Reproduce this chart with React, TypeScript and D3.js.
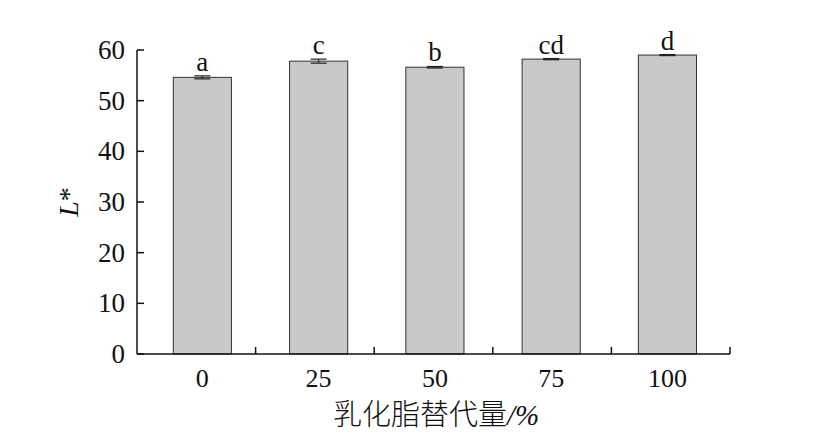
import React from "react";
import * as d3 from "d3";

const categories = ["0", "25", "50", "75", "100"];
const values = [54.6, 57.8, 56.6, 58.2, 59.0];
const errors = [0.3, 0.4, 0.15, 0.12, 0.1];
const letters = ["a", "c", "b", "cd", "d"];
const yTicks = [0, 10, 20, 30, 40, 50, 60];

export default function App() {
  const W = 821, H = 442;
  const x0 = 137, x1 = 730, yTop = 50, yBot = 354;
  const x = d3.scaleBand<string>().domain(categories).range([x0, x1]).paddingInner(0.5).paddingOuter(0.3).align(0.52);
  const y = d3.scaleLinear().domain([0, 60]).range([yBot, yTop]);
  const step = (x1 - x0) / categories.length;
  const serif: React.CSSProperties = { fontFamily: '"Liberation Serif", "DejaVu Serif", serif' };
  return (
    <svg width={W} height={H} style={{ position: "absolute", left: 0, top: 0, background: "#fff" }}>
      {categories.map((c, i) => {
        const bx = x(c)!;
        const bw = x.bandwidth();
        const cx = bx + bw / 2;
        return (
          <g key={c}>
            <rect x={bx} y={y(values[i])} width={bw} height={yBot - y(values[i])} fill="#c8c9cb" stroke="#333" strokeWidth={1} />
            <line x1={cx} x2={cx} y1={y(values[i] + errors[i])} y2={y(values[i] - errors[i])} stroke="#222" strokeWidth={1} />
            <line x1={cx - 8} x2={cx + 8} y1={y(values[i] + errors[i])} y2={y(values[i] + errors[i])} stroke="#222" strokeWidth={1.2} />
            <line x1={cx - 8} x2={cx + 8} y1={y(values[i] - errors[i])} y2={y(values[i] - errors[i])} stroke="#222" strokeWidth={1.2} />
            <text x={cx} y={y(values[i] + errors[i]) - 5} textAnchor="middle" style={serif} fontSize={27} fill="#111">{letters[i]}</text>
            <text x={cx} y={387} textAnchor="middle" style={serif} fontSize={26} fill="#111">{c}</text>
          </g>
        );
      })}
      <line x1={x0} x2={x0} y1={yTop} y2={yBot} stroke="#111" strokeWidth={1.5} />
      {yTicks.map((t) => (
        <g key={t}>
          <line x1={x0} x2={x0 + 7} y1={y(t)} y2={y(t)} stroke="#111" strokeWidth={1.5} />
          <text x={x0 - 12} y={y(t) + 9} textAnchor="end" style={serif} fontSize={27} fill="#111">{t}</text>
        </g>
      ))}
      <line x1={x0} x2={x1} y1={yBot} y2={yBot} stroke="#111" strokeWidth={1.5} />
      {categories.map((c, i) => (
        <line key={c} x1={x0 + step * (i + 1)} x2={x0 + step * (i + 1)} y1={yBot} y2={yBot - 7} stroke="#111" strokeWidth={1.5} />
      ))}
      <text transform={`translate(78,${(yTop + yBot) / 2}) rotate(-90)`} textAnchor="middle" style={serif} fontSize={28} fill="#111">
        <tspan fontStyle="italic">L</tspan>*
      </text>
      <text x={436} y={425} textAnchor="middle" style={{ fontFamily: '"Noto Sans CJK SC", sans-serif' }} fontWeight={300} fontSize={29} fill="#111">
        乳化脂替代量<tspan style={serif} fontStyle="italic">/%</tspan>
      </text>
    </svg>
  );
}
